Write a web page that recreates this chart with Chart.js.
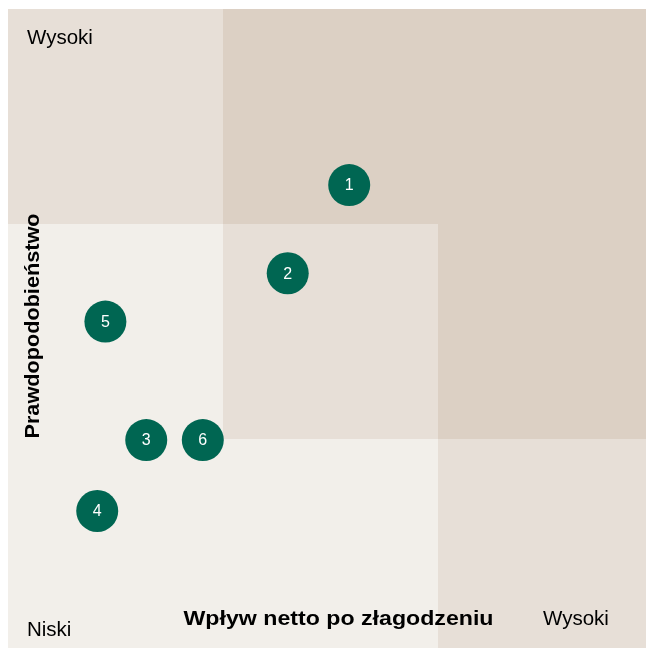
<!DOCTYPE html>
<html>
<head>
<meta charset="utf-8">
<script src="https://cdn.jsdelivr.net/npm/chart.js@4/dist/chart.umd.min.js"></script>
<style>
html,body{margin:0;padding:0;overflow:hidden;background:#ffffff;width:646px;height:648px;}
canvas{display:block;}
</style>
</head>
<body>
<canvas id="c" width="660" height="660"></canvas>
<script>
// Risk ids and positions (impact on x, likelihood on y, each 0..3 scale)
const riskLabels = ['1', '2', '3', '4', '5', '6'];
const impactValues = [1.587, 1.301, 0.643, 0.415, 0.453, 0.906];
const likelihoodValues = [2.181, 1.771, 0.995, 0.665, 1.546, 0.995];

// Heat-map levels, rows from top (high likelihood) to bottom
const cellLevels = [
  [1, 2, 2],
  [0, 1, 2],
  [0, 0, 1]
];
const levelColors = ['#f2efea', '#e7dfd7', '#dcd0c4'];

const xAxisTitle = 'Wpływ netto po złagodzeniu';
const yAxisTitle = 'Prawdopodobieństwo';
const lowLabel = 'Niski';
const highLabel = 'Wysoki';

const FONT = '"Liberation Sans", Arial, sans-serif';

function wideText(ctx, text, x, y, rot, targetW) {
  ctx.save();
  ctx.translate(x, y);
  if (rot) ctx.rotate(rot);
  const w = ctx.measureText(text).width;
  ctx.scale(targetW / w, 1);
  ctx.fillText(text, 0, 0);
  ctx.restore();
}

const bgPlugin = {
  id: 'cells',
  beforeDatasetsDraw(chart) {
    const ctx = chart.ctx;
    const xs = chart.scales.x, ys = chart.scales.y;
    const n = cellLevels.length;
    ctx.save();
    for (let r = 0; r < n; r++) {
      for (let c = 0; c < cellLevels[r].length; c++) {
        const x0 = xs.getPixelForValue(c), x1 = xs.getPixelForValue(c + 1);
        const yTop = ys.getPixelForValue(n - r), yBot = ys.getPixelForValue(n - r - 1);
        ctx.fillStyle = levelColors[cellLevels[r][c]];
        ctx.fillRect(Math.round(x0), Math.round(yTop), Math.round(x1) - Math.round(x0), Math.round(yBot) - Math.round(yTop));
      }
    }
    // corner labels
    ctx.fillStyle = '#000000';
    ctx.textBaseline = 'alphabetic';
    ctx.font = '20.5px ' + FONT;
    ctx.textAlign = 'left';
    ctx.fillText(highLabel, 27, 44);
    ctx.fillText(lowLabel, 27, 636);
    ctx.fillText(highLabel, 543, 625);
    // axis titles
    ctx.font = 'bold 21px ' + FONT;
    ctx.textAlign = 'center';
    wideText(ctx, xAxisTitle, 338.5, 624.5, 0, 310);
    wideText(ctx, yAxisTitle, 38.5, 326, -Math.PI / 2, 225);
    ctx.restore();
  },
  afterDatasetsDraw(chart) {
    const ctx = chart.ctx;
    const meta = chart.getDatasetMeta(0);
    ctx.save();
    ctx.fillStyle = '#ffffff';
    ctx.font = '16px ' + FONT;
    ctx.textAlign = 'center';
    ctx.textBaseline = 'middle';
    meta.data.forEach((pt, i) => {
      ctx.fillText(riskLabels[i], pt.x, pt.y + 1);
    });
    ctx.restore();
  }
};

new Chart(document.getElementById('c'), {
  type: 'scatter',
  data: {
    datasets: [{
      data: impactValues.map((v, i) => ({ x: v, y: likelihoodValues[i] })),
      backgroundColor: '#006652',
      borderWidth: 0,
      pointRadius: 21,
      pointHoverRadius: 21
    }]
  },
  options: {
    responsive: false,
    animation: false,
    events: [],
    layout: { autoPadding: false, padding: { left: 8, top: 9, right: 7, bottom: 6 } },
    plugins: { legend: { display: false }, tooltip: { enabled: false } },
    scales: {
      x: { type: 'linear', min: 0, max: 3, display: false },
      y: { type: 'linear', min: 0, max: 3, display: false }
    }
  },
  plugins: [bgPlugin]
});
</script>
</body>
</html>
